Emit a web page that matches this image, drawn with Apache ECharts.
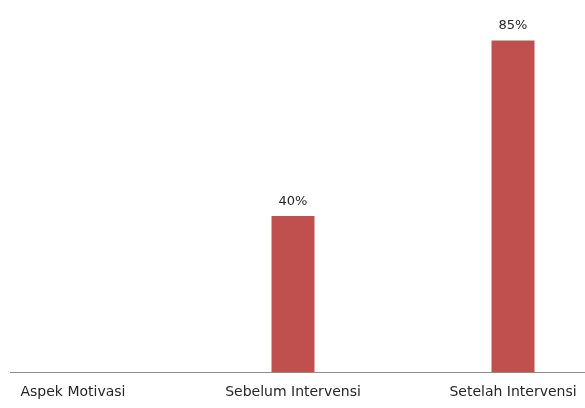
<!DOCTYPE html>
<html><head><meta charset="utf-8">
<script src="https://cdn.jsdelivr.net/npm/echarts@6/dist/echarts.min.js"></script>
<style>html,body{margin:0;padding:0;background:#fff;overflow:hidden;}
#wrap{position:absolute;left:10px;top:0;width:575px;height:408px;overflow:hidden;}
#c{position:absolute;left:-47px;top:0;width:660px;height:408px;}</style>
</head><body><div id="wrap"><div id="c"></div></div>
<script>
var categories = ['Aspek Motivasi', 'Sebelum Intervensi', 'Setelah Intervensi'];
var values = [null, 40, 85];
var chart = echarts.init(document.getElementById('c'));
chart.setOption({
  animation: false,
  backgroundColor: '#fff',
  grid: { left: 0, right: 0, top: 21, bottom: 36 },
  xAxis: {
    type: 'category', data: categories,
    axisLine: { lineStyle: { color: '#8c8c8c', width: 1 } },
    axisTick: { show: false },
    axisLabel: { color: '#262626', fontFamily: 'DejaVu Sans', fontSize: 14, margin: 13 }
  },
  yAxis: { type: 'value', min: 0, max: 90, show: false, splitLine: { show: false } },
  series: [{
    type: 'bar', data: values, barWidth: 43,
    itemStyle: { color: '#C0504D' },
    label: { show: true, position: 'top', formatter: '{c}%', color: '#262626', fontFamily: 'DejaVu Sans', fontSize: 13, distance: 8 }
  }]
});
</script></body></html>
